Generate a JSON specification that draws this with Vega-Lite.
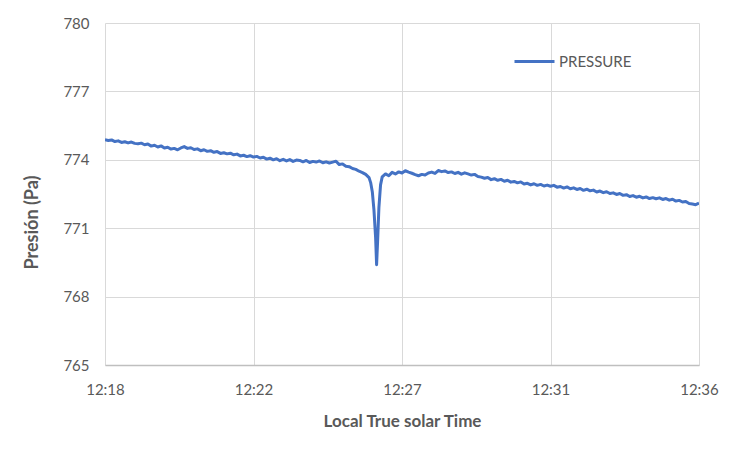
{
  "$schema": "https://vega.github.io/schema/vega-lite/v6.json",
  "width": 594,
  "height": 342,
  "autosize": {"type": "none"},
  "padding": {"left": 105, "top": 23, "right": 52, "bottom": 86},
  "background": "white",
  "config": {
    "view": {"stroke": null},
    "font": "Lato",
    "axis": {"labelColor": "#595959", "titleColor": "#595959", "gridColor": "#d9d9d9", "gridWidth": 1, "labelFontSize": 15, "labelFont": "Lato", "titleFont": "Lato"}
  },
  "data": {"values": [
    {"t":0.0,"p":774.88},{"t":0.1,"p":774.85},{"t":0.2,"p":774.87},{"t":0.3,"p":774.80},{"t":0.4,"p":774.83},{"t":0.5,"p":774.76},{"t":0.6,"p":774.79},{"t":0.7,"p":774.74},{"t":0.8,"p":774.78},{"t":0.9,"p":774.72},
    {"t":1.0,"p":774.70},{"t":1.1,"p":774.73},{"t":1.2,"p":774.66},{"t":1.3,"p":774.69},{"t":1.4,"p":774.60},{"t":1.5,"p":774.64},{"t":1.6,"p":774.56},{"t":1.7,"p":774.61},{"t":1.8,"p":774.52},{"t":1.9,"p":774.55},
    {"t":2.0,"p":774.47},{"t":2.1,"p":774.50},{"t":2.2,"p":774.44},{"t":2.3,"p":774.52},{"t":2.4,"p":774.58},{"t":2.5,"p":774.50},{"t":2.6,"p":774.53},{"t":2.7,"p":774.45},{"t":2.8,"p":774.48},{"t":2.9,"p":774.40},
    {"t":3.0,"p":774.44},{"t":3.1,"p":774.37},{"t":3.2,"p":774.40},{"t":3.3,"p":774.33},{"t":3.4,"p":774.36},{"t":3.5,"p":774.28},{"t":3.6,"p":774.31},{"t":3.7,"p":774.26},{"t":3.8,"p":774.29},{"t":3.9,"p":774.22},
    {"t":4.0,"p":774.25},{"t":4.1,"p":774.17},{"t":4.2,"p":774.20},{"t":4.3,"p":774.14},{"t":4.4,"p":774.18},{"t":4.5,"p":774.12},{"t":4.6,"p":774.15},{"t":4.7,"p":774.08},{"t":4.8,"p":774.11},{"t":4.9,"p":774.03},
    {"t":5.0,"p":774.07},{"t":5.1,"p":774.00},{"t":5.2,"p":774.05},{"t":5.3,"p":773.96},{"t":5.4,"p":774.02},{"t":5.5,"p":773.95},{"t":5.6,"p":774.01},{"t":5.7,"p":773.93},{"t":5.8,"p":773.99},{"t":5.9,"p":773.97},
    {"t":6.0,"p":773.91},{"t":6.1,"p":773.97},{"t":6.2,"p":773.88},{"t":6.3,"p":773.93},{"t":6.4,"p":773.90},{"t":6.5,"p":773.95},{"t":6.6,"p":773.87},{"t":6.7,"p":773.91},{"t":6.8,"p":773.86},{"t":6.9,"p":773.90},
    {"t":7.0,"p":773.94},{"t":7.1,"p":773.79},{"t":7.2,"p":773.82},{"t":7.3,"p":773.72},{"t":7.4,"p":773.70},{"t":7.5,"p":773.62},{"t":7.6,"p":773.58},{"t":7.7,"p":773.50},{"t":7.8,"p":773.44},{"t":7.9,"p":773.36},
    {"t":8.0,"p":773.22},{"t":8.05,"p":773.0},{"t":8.1,"p":772.6},{"t":8.15,"p":771.8},{"t":8.2,"p":770.6},{"t":8.23,"p":769.4},{"t":8.26,"p":770.4},{"t":8.3,"p":771.9},{"t":8.35,"p":772.9},{"t":8.4,"p":773.25},
    {"t":8.5,"p":773.38},{"t":8.6,"p":773.30},{"t":8.7,"p":773.45},{"t":8.8,"p":773.38},{"t":8.9,"p":773.47},{"t":9.0,"p":773.42},{"t":9.1,"p":773.52},{"t":9.2,"p":773.46},{"t":9.3,"p":773.41},{"t":9.4,"p":773.35},
    {"t":9.5,"p":773.30},{"t":9.6,"p":773.36},{"t":9.7,"p":773.33},{"t":9.8,"p":773.42},{"t":9.9,"p":773.46},{"t":10.0,"p":773.40},{"t":10.1,"p":773.53},{"t":10.2,"p":773.48},{"t":10.3,"p":773.51},{"t":10.4,"p":773.44},
    {"t":10.5,"p":773.47},{"t":10.6,"p":773.40},{"t":10.7,"p":773.45},{"t":10.8,"p":773.37},{"t":10.9,"p":773.43},{"t":11.0,"p":773.38},{"t":11.1,"p":773.33},{"t":11.2,"p":773.36},{"t":11.3,"p":773.27},{"t":11.4,"p":773.24},
    {"t":11.5,"p":773.19},{"t":11.6,"p":773.22},{"t":11.7,"p":773.13},{"t":11.8,"p":773.17},{"t":11.9,"p":773.10},{"t":12.0,"p":773.14},{"t":12.1,"p":773.06},{"t":12.2,"p":773.10},{"t":12.3,"p":773.02},{"t":12.4,"p":773.05},
    {"t":12.5,"p":772.99},{"t":12.6,"p":773.03},{"t":12.7,"p":772.94},{"t":12.8,"p":772.97},{"t":12.9,"p":772.90},{"t":13.0,"p":772.95},{"t":13.1,"p":772.88},{"t":13.2,"p":772.92},{"t":13.3,"p":772.85},{"t":13.4,"p":772.89},
    {"t":13.5,"p":772.84},{"t":13.6,"p":772.88},{"t":13.7,"p":772.80},{"t":13.8,"p":772.83},{"t":13.9,"p":772.76},{"t":14.0,"p":772.81},{"t":14.1,"p":772.73},{"t":14.2,"p":772.77},{"t":14.3,"p":772.70},{"t":14.4,"p":772.74},
    {"t":14.5,"p":772.66},{"t":14.6,"p":772.71},{"t":14.7,"p":772.64},{"t":14.8,"p":772.67},{"t":14.9,"p":772.59},{"t":15.0,"p":772.63},{"t":15.1,"p":772.56},{"t":15.2,"p":772.60},{"t":15.3,"p":772.52},{"t":15.4,"p":772.55},
    {"t":15.5,"p":772.48},{"t":15.6,"p":772.52},{"t":15.7,"p":772.44},{"t":15.8,"p":772.47},{"t":15.9,"p":772.39},{"t":16.0,"p":772.43},{"t":16.1,"p":772.36},{"t":16.2,"p":772.40},{"t":16.3,"p":772.33},{"t":16.4,"p":772.37},
    {"t":16.5,"p":772.30},{"t":16.6,"p":772.34},{"t":16.7,"p":772.29},{"t":16.8,"p":772.33},{"t":16.9,"p":772.26},{"t":17.0,"p":772.30},{"t":17.1,"p":772.23},{"t":17.2,"p":772.27},{"t":17.3,"p":772.19},{"t":17.4,"p":772.22},
    {"t":17.5,"p":772.15},{"t":17.6,"p":772.17},{"t":17.7,"p":772.08},{"t":17.8,"p":772.06},{"t":17.9,"p":772.03},{"t":18.0,"p":772.10}
  ]},
  "mark": {"type": "line", "strokeWidth": 3, "strokeJoin": "round", "clip": true},
  "encoding": {
    "x": {
      "field": "t", "type": "quantitative",
      "scale": {"domain": [0, 18], "nice": false, "zero": false},
      "axis": {
        "values": [0, 4.5, 9, 13.5, 18],
        "labelExpr": "'12:' + floor(18 + datum.value)",
        "labelFlush": false,
        "title": "Local True solar Time",
        "titleFontSize": 17, "titleFontWeight": "bold", "titlePadding": 16,
        "labelPadding": 17, "ticks": false,
        "domainColor": "#bfbfbf", "domainWidth": 1.5,
        "grid": true
      }
    },
    "y": {
      "field": "p", "type": "quantitative",
      "scale": {"domain": [765, 780], "nice": false, "zero": false},
      "axis": {
        "values": [765, 768, 771, 774, 777, 780],
        "title": "Presión (Pa)",
        "titleFontSize": 18, "titleFontWeight": "bold", "titleX": -64, "titleY": 199,
        "labelPadding": 16, "ticks": false, "domain": false,
        "grid": true
      }
    },
    "color": {
      "datum": "PRESSURE", "type": "nominal",
      "scale": {"range": ["#4472C4"]},
      "legend": {
        "title": null, "orient": "none", "legendX": 408, "legendY": 17,
        "symbolType": "stroke", "symbolSize": 1600, "symbolStrokeWidth": 3,
        "labelFontSize": 15, "labelColor": "#595959", "labelFont": "Lato", "labelOffset": 3
      }
    }
  }
}
